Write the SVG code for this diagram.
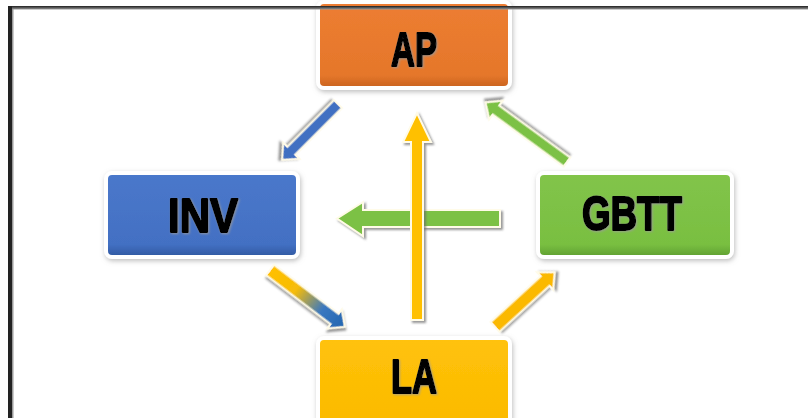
<svg xmlns="http://www.w3.org/2000/svg" width="808" height="418" viewBox="0 0 808 418">
  <defs>
    <filter id="boxShadow" x="-20%" y="-20%" width="140%" height="150%">
      <feDropShadow dx="1" dy="2" stdDeviation="2.5" flood-color="#8a8a8a" flood-opacity="0.55"/>
    </filter>
    <filter id="arrowShadow" x="-30%" y="-30%" width="160%" height="160%">
      <feDropShadow dx="2" dy="2" stdDeviation="1.2" flood-color="#6b6b6b" flood-opacity="0.7"/>
    </filter>
    <filter id="textShadow" x="-20%" y="-20%" width="140%" height="140%">
      <feDropShadow dx="1" dy="1" stdDeviation="0.8" flood-color="#9a9a9a" flood-opacity="0.8"/>
    </filter>
    <linearGradient id="gOrange" x1="0" y1="0" x2="0" y2="1">
      <stop offset="0" stop-color="#ED7D31"/>
      <stop offset="0.85" stop-color="#E5772B"/>
      <stop offset="1" stop-color="#C8621F"/>
    </linearGradient>
    <linearGradient id="gBlue" x1="0" y1="0" x2="0" y2="1">
      <stop offset="0" stop-color="#4A78CB"/>
      <stop offset="0.85" stop-color="#4370C3"/>
      <stop offset="1" stop-color="#2F579F"/>
    </linearGradient>
    <linearGradient id="gGreen" x1="0" y1="0" x2="0" y2="1">
      <stop offset="0" stop-color="#82C44A"/>
      <stop offset="0.85" stop-color="#79BF41"/>
      <stop offset="1" stop-color="#5E9E30"/>
    </linearGradient>
    <linearGradient id="gYellow" x1="0" y1="0" x2="0" y2="1">
      <stop offset="0" stop-color="#FFC20A"/>
      <stop offset="1" stop-color="#FBBA00"/>
    </linearGradient>
    <linearGradient id="gYB" x1="0" y1="0" x2="1" y2="0">
      <stop offset="0" stop-color="#FFC000"/>
      <stop offset="0.35" stop-color="#F6BC08"/>
      <stop offset="0.7" stop-color="#3A78C0"/>
      <stop offset="1" stop-color="#2266B0"/>
    </linearGradient>
    <linearGradient id="frameTop" x1="0" y1="0" x2="0" y2="1">
      <stop offset="0" stop-color="#1e1e1e"/>
      <stop offset="1" stop-color="#9a9a9a"/>
    </linearGradient>
  </defs>
  <style>
    .box { stroke: #ffffff; stroke-width: 4; filter: url(#boxShadow); }
    .lbl { font-family: "Liberation Sans", Arial, sans-serif; font-weight: bold; font-size: 48px; fill: #000000; stroke: #000000; stroke-width: 2; stroke-linejoin: round; text-anchor: middle; filter: url(#textShadow); }
    .arr { stroke: #fffbe8; stroke-width: 2; stroke-linejoin: miter; filter: url(#arrowShadow); }
  </style>

  <rect x="0" y="0" width="808" height="418" fill="#ffffff"/>

  <g id="node-AP">
    <rect class="box" x="318" y="2" width="192" height="86" rx="6" fill="url(#gOrange)"/>
    <text class="lbl" x="414" y="66" textLength="46" lengthAdjust="spacingAndGlyphs">AP</text>
  </g>
  <g id="node-INV">
    <rect class="box" x="106" y="173" width="192" height="84" rx="6" fill="url(#gBlue)"/>
    <text class="lbl" x="203" y="232" textLength="70" lengthAdjust="spacingAndGlyphs">INV</text>
  </g>
  <g id="node-GBTT">
    <rect class="box" x="538" y="173" width="194" height="84" rx="6" fill="url(#gGreen)"/>
    <text class="lbl" x="632" y="230" textLength="100" lengthAdjust="spacingAndGlyphs">GBTT</text>
  </g>
  <g id="node-LA">
    <rect class="box" x="318" y="338" width="192" height="90" rx="6" fill="url(#gYellow)"/>
    <text class="lbl" x="414" y="393" textLength="46" lengthAdjust="spacingAndGlyphs">LA</text>
  </g>

  <g id="connectors">
    <!-- AP -> INV (blue) -->
    <path class="arr" fill="#3F6FC2" transform="translate(338,104) rotate(135)"
          d="M0,-5.5 L66,-5.5 L66,-11.5 L79,0 L66,11.5 L66,5.5 L0,5.5 Z"/>
    <!-- GBTT -> AP (green) -->
    <path class="arr" fill="#7CC144" transform="translate(567,162) rotate(-143.8)"
          d="M0,-5.5 L88,-5.5 L88,-11.5 L101,0 L88,11.5 L88,5.5 L0,5.5 Z"/>
    <!-- INV -> LA (yellow to blue) -->
    <path class="arr" fill="url(#gYB)" transform="translate(270,270) rotate(37.2)"
          d="M0,-6.5 L81,-6.5 L81,-12 L94,0 L81,12 L81,6.5 L0,6.5 Z"/>
    <!-- LA -> GBTT (yellow) -->
    <path class="arr" fill="#FBB900" transform="translate(495,327) rotate(-42.5)"
          d="M0,-6.5 L68,-6.5 L68,-12 L81,0 L68,12 L68,6.5 L0,6.5 Z"/>
    <!-- GBTT -> INV horizontal (green) -->
    <path class="arr" fill="#7CC144"
          d="M500,210 L363,210 L363,202 L337,218.5 L363,236 L363,227 L500,227 Z"/>
    <!-- LA -> AP vertical (yellow) -->
    <path class="arr" fill="#FFC000"
          d="M411,320 L411,142 L403,142 L417,113 L431,142 L423,142 L423,320 Z"/>
  </g>

  <g id="frame">
    <rect x="8" y="6" width="800" height="3.5" fill="url(#frameTop)"/>
    <rect x="8" y="6" width="4" height="412" fill="#222222"/>
    <rect x="12" y="9" width="1.5" height="409" fill="#9a9a9a"/>
  </g>
</svg>
